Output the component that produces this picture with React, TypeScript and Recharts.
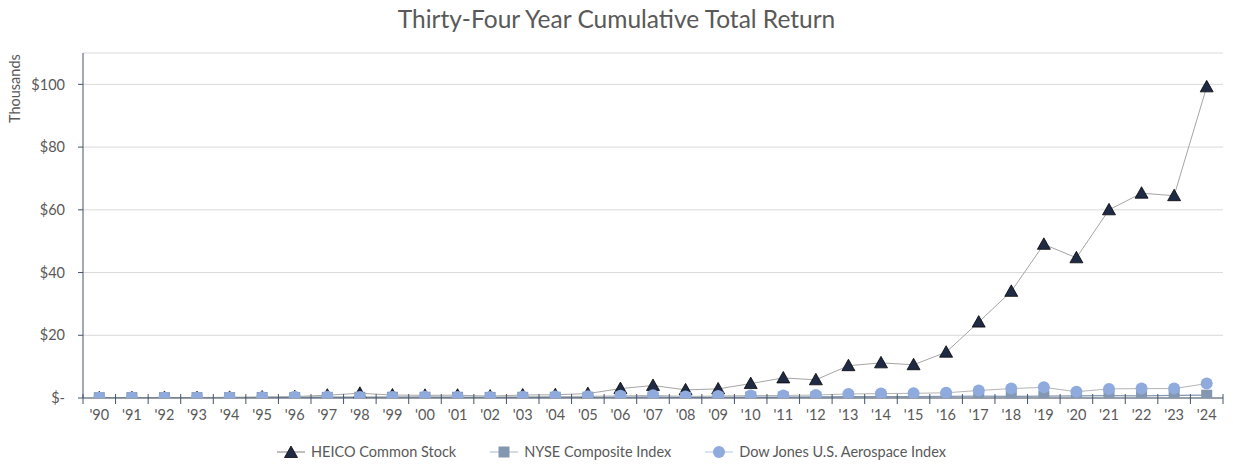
import { CartesianGrid, Legend, Line, LineChart, XAxis, YAxis } from 'recharts'

const years = [
  "'90", "'91", "'92", "'93", "'94", "'95", "'96", "'97", "'98", "'99",
  "'00", "'01", "'02", "'03", "'04", "'05", "'06", "'07", "'08", "'09",
  "'10", "'11", "'12", "'13", "'14", "'15", "'16", "'17", "'18", "'19",
  "'20", "'21", "'22", "'23", "'24",
]

// values in thousands of dollars
const heico = [
  0.1, 0.13, 0.16, 0.16, 0.2, 0.3, 0.45, 0.9, 1.5, 0.95,
  0.85, 0.9, 0.6, 0.95, 1.05, 1.4, 3.0, 4.0, 2.6, 2.9,
  4.6, 6.4, 5.8, 10.3, 11.2, 10.6, 14.6, 24.2, 34.0, 49.0,
  44.7, 60.0, 65.3, 64.5, 99.2,
]

const nyse = [
  0.1, 0.12, 0.11, 0.12, 0.12, 0.15, 0.17, 0.2, 0.23, 0.25,
  0.24, 0.22, 0.18, 0.23, 0.25, 0.27, 0.31, 0.33, 0.21, 0.26,
  0.3, 0.29, 0.33, 0.41, 0.44, 0.43, 0.48, 0.56, 0.52, 0.62,
  0.65, 0.75, 0.7, 0.8, 0.9,
]

const dowJones = [
  0.1, 0.12, 0.11, 0.14, 0.17, 0.27, 0.37, 0.38, 0.34, 0.3,
  0.38, 0.31, 0.28, 0.38, 0.45, 0.55, 0.68, 0.85, 0.5, 0.65,
  0.8, 0.8, 0.95, 1.3, 1.4, 1.5, 1.65, 2.4, 3.0, 3.4,
  2.0, 2.9, 3.0, 3.0, 4.6,
]

const yTicks = [0, 20, 40, 60, 80, 100]

const data = years.map((year, i) => ({
  year,
  heico: heico[i],
  nyse: nyse[i],
  dowJones: dowJones[i],
}))

const FONT = 'Lato, "Open Sans", sans-serif'
const TEXT = '#595959'
const AXIS = '#44546a'
const HALF_STEP = 16.3

const Triangle = ({ cx, cy }: any) => {
  if (cx == null || cy == null) return null
  return (
    <path
      d={`M${cx},${cy - 6.5} L${cx + 6.5},${cy + 5} L${cx - 6.5},${cy + 5} Z`}
      fill="#1f2a44"
      stroke="#000"
      strokeWidth={0.75}
    />
  )
}

const Square = ({ cx, cy }: any) => {
  if (cx == null || cy == null) return null
  return <rect x={cx - 5.5} y={cy - 5.5} width={11} height={11} fill="#8497b0" />
}

const Circle = ({ cx, cy }: any) => {
  if (cx == null || cy == null) return null
  return <circle cx={cx} cy={cy} r={6} fill="#8faadc" />
}

const XTick = ({ x, y, payload, index }: any) => {
  const axisY = y - 8
  return (
    <g>
      <line x1={x - HALF_STEP} x2={x - HALF_STEP} y1={axisY - 4} y2={axisY + 6} stroke={AXIS} />
      {index === years.length - 1 && (
        <line x1={x + HALF_STEP} x2={x + HALF_STEP} y1={axisY - 4} y2={axisY + 6} stroke={AXIS} />
      )}
      <text x={x} y={y + 14} textAnchor="middle" fill={TEXT} fontSize={14.5} fontFamily={FONT}>
        {payload.value}
      </text>
    </g>
  )
}

const legendItems = [
  { name: 'HEICO Common Stock', line: '#7f7f7f', marker: 'triangle' },
  { name: 'NYSE Composite Index', line: '#adb9ca', marker: 'square' },
  { name: 'Dow Jones U.S. Aerospace Index', line: '#b4c7e7', marker: 'circle' },
]

const LegendContent = () => (
  <div
    style={{
      display: 'flex',
      justifyContent: 'center',
      gap: 34,
      paddingTop: 13,
      fontFamily: FONT,
      fontSize: 14.5,
      color: TEXT,
    }}
  >
    {legendItems.map((item) => (
      <div key={item.name} style={{ display: 'flex', alignItems: 'center', gap: 6 }}>
        <svg width={28} height={14}>
          <line x1={0} x2={28} y1={7} y2={7} stroke={item.line} strokeWidth={1} />
          {item.marker === 'triangle' && <Triangle cx={14} cy={7.5} />}
          {item.marker === 'square' && <Square cx={14} cy={7} />}
          {item.marker === 'circle' && <Circle cx={14} cy={7} />}
        </svg>
        <span>{item.name}</span>
      </div>
    ))}
  </div>
)

export default function App() {
  return (
    <div style={{ position: 'relative', width: 1233, height: 468, background: '#fff' }}>
      <style>{'body{margin:0}'}</style>
      <div
        style={{
          position: 'absolute',
          top: 4,
          left: 0,
          width: 1233,
          textAlign: 'center',
          fontFamily: FONT,
          fontSize: 24.5,
          color: TEXT,
        }}
      >
        Thirty-Four Year Cumulative Total Return
      </div>
      <LineChart width={1233} height={468} data={data} margin={{ top: 53, right: 10, bottom: 4, left: 0 }}>
        <CartesianGrid vertical={false} stroke="#d9d9d9" />
        <XAxis
          dataKey="year"
          interval={0}
          padding={{ left: HALF_STEP, right: HALF_STEP }}
          axisLine={{ stroke: AXIS }}
          tickLine={false}
          tick={<XTick />}
          height={32}
        />
        <YAxis
          domain={[0, 110]}
          ticks={yTicks}
          width={83}
          axisLine={{ stroke: AXIS }}
          tickLine={{ stroke: AXIS }}
          tickSize={5}
          tickMargin={13}
          tickFormatter={(v: number) => (v === 0 ? '$-' : `$${v}`)}
          tick={{ fill: TEXT, fontSize: 14.5, fontFamily: FONT }}
          label={{
            value: 'Thousands',
            angle: -90,
            position: 'insideTopLeft',
            offset: 0,
            dx: 10,
            dy: 70,
            fill: TEXT,
            fontSize: 14.5,
            fontFamily: FONT,
          }}
          allowDataOverflow
        />
        <Legend verticalAlign="bottom" height={34} content={<LegendContent />} />
        <Line
          dataKey="heico"
          stroke="#a6a6a6"
          strokeWidth={1}
          dot={<Triangle />}
          activeDot={false}
          isAnimationActive={false}
        />
        <Line
          dataKey="nyse"
          stroke="#8497b0"
          strokeWidth={1.25}
          dot={<Square />}
          activeDot={false}
          isAnimationActive={false}
        />
        <Line
          dataKey="dowJones"
          stroke="#b4b4b4"
          strokeWidth={1}
          dot={<Circle />}
          activeDot={false}
          isAnimationActive={false}
        />
      </LineChart>
    </div>
  )
}
